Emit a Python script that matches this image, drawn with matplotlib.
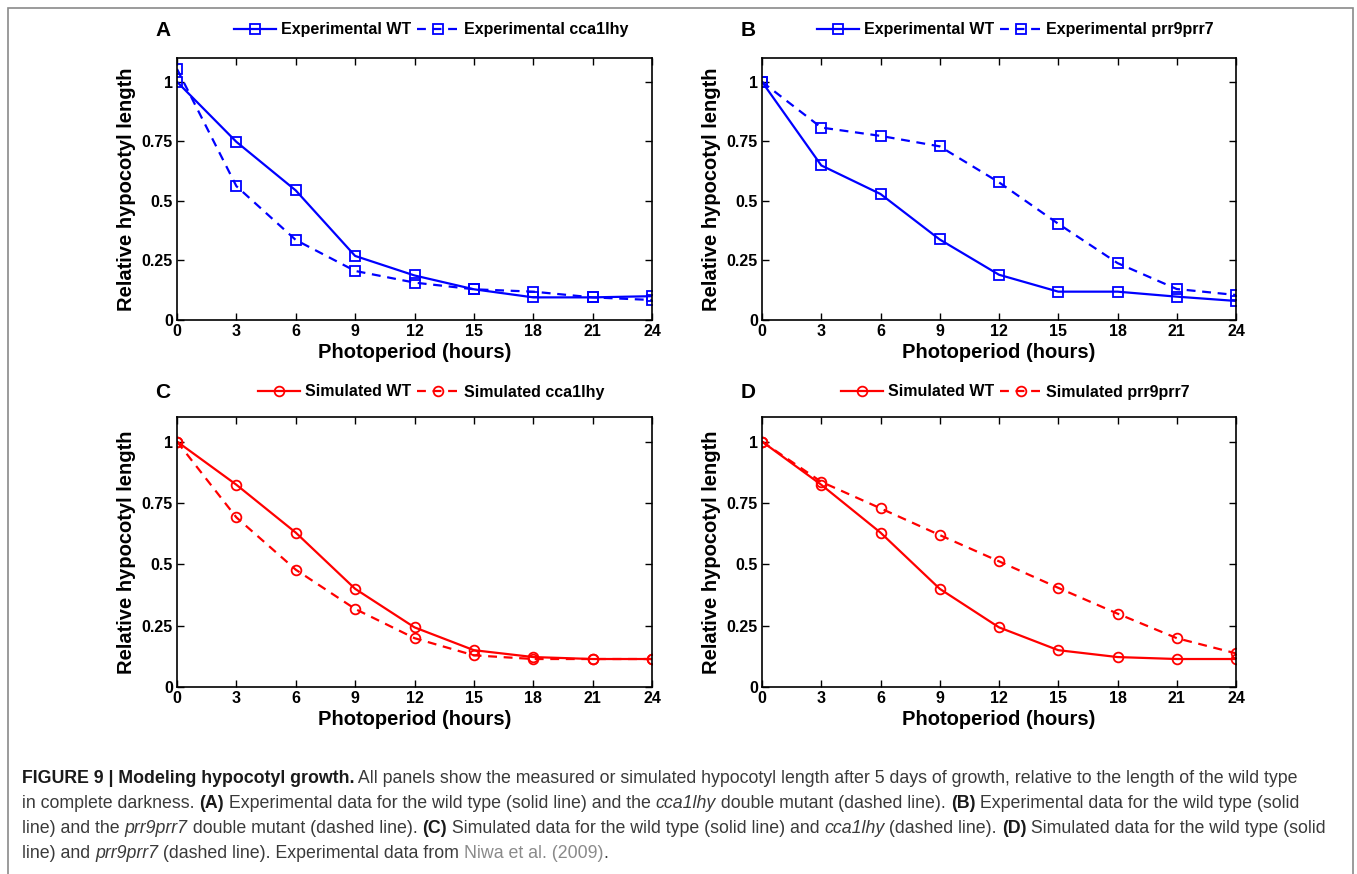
import matplotlib
matplotlib.use("Agg")
import matplotlib.pyplot as plt
from matplotlib.patches import Rectangle

plt.rcParams['font.family'] = ['Liberation Sans', 'DejaVu Sans']

# data
hours = [0, 3, 6, 9, 12, 15, 18, 21, 24]
exp_wt_a = [1.0, 0.748, 0.544, 0.269, 0.187, 0.129, 0.095, 0.095, 0.10]
exp_cca1lhy = [1.054, 0.562, 0.336, 0.206, 0.157, 0.129, 0.119, 0.095, 0.084]
exp_wt_b = [1.0, 0.649, 0.529, 0.338, 0.19, 0.119, 0.119, 0.098, 0.08]
exp_prr9prr7 = [1.0, 0.808, 0.773, 0.729, 0.578, 0.404, 0.239, 0.13, 0.105]
sim_wt = [1.0, 0.824, 0.629, 0.40, 0.243, 0.150, 0.122, 0.114, 0.114]
sim_cca1lhy = [1.0, 0.691, 0.478, 0.318, 0.199, 0.129, 0.114, 0.114, 0.114]
sim_prr9prr7 = [1.0, 0.836, 0.728, 0.619, 0.512, 0.404, 0.299, 0.199, 0.137]

yticks = [0, 0.25, 0.5, 0.75, 1]
ytick_labels = ['0', '0.25', '0.5', '0.75', '1']

panels = [
    ('A', 'Experimental WT', exp_wt_a, 'Experimental cca1lhy', exp_cca1lhy, 'b', 's'),
    ('B', 'Experimental WT', exp_wt_b, 'Experimental prr9prr7', exp_prr9prr7, 'b', 's'),
    ('C', 'Simulated WT', sim_wt, 'Simulated cca1lhy', sim_cca1lhy, 'r', 'o'),
    ('D', 'Simulated WT', sim_wt, 'Simulated prr9prr7', sim_prr9prr7, 'r', 'o'),
]

W, H = 1357, 874
fig = plt.figure(figsize=(W / 100, H / 100), dpi=100)

# axes boxes in pixels: left, top, right, bottom
boxes = [(177, 58, 652, 320), (762, 58, 1236, 320),
         (177, 417, 652, 687), (762, 417, 1236, 687)]

for (letter, l1, y1, l2, y2, col, mk), (x0, t, x1, b) in zip(panels, boxes):
    ax = fig.add_axes([x0 / W, 1 - b / H, (x1 - x0) / W, (b - t) / H])
    ax.plot(hours, y1, '-', color=col, marker=mk, mfc='none', mec=col,
            ms=7, mew=1.3, lw=1.6, label=l1)
    ax.plot(hours, y2, '--', color=col, marker=mk, mfc='none', mec=col,
            ms=7, mew=1.3, lw=1.6, label=l2, dashes=(4, 3))
    ax.set_xlim(0, 24)
    ax.set_ylim(0, 1.1)
    ax.set_xticks(hours)
    ax.set_yticks(yticks)
    ax.set_yticklabels(ytick_labels)
    ax.tick_params(direction='in', top=True, right=True, length=5, width=1,
                   labelsize=11.5, pad=3)
    for lab in ax.get_xticklabels() + ax.get_yticklabels():
        lab.set_fontweight('bold')
    for s in ax.spines.values():
        s.set_linewidth(1.2)
    ax.set_xlabel('Photoperiod (hours)', fontsize=14.5, fontweight='bold')
    ax.set_ylabel('Relative hypocotyl length', fontsize=14.5, fontweight='bold')
    h = b - t
    ax.xaxis.set_label_coords(0.5, -23 / h)
    ax.yaxis.set_label_coords(-41 / (x1 - x0), 0.5)
    top_y = 30 if t < 100 else 392
    ax.legend(ncol=2, loc='center', bbox_to_anchor=(0.535, 1 + (t - top_y) / h),
              frameon=False, prop={'weight': 'bold', 'size': 11.5},
              handlelength=2.6, columnspacing=0.4, handletextpad=0.3,
              borderaxespad=0)
    fig.text((x0 - 14) / W, 1 - top_y / H, letter, fontsize=15,
             fontweight='bold', ha='center', va='center')

# grey frame round figure
fig.patches.append(Rectangle((8 / W, -0.02), (1353 - 8) / W, 1.02 - 8 / H,
                             transform=fig.transFigure, fill=False,
                             ec='#8a8a8a', lw=1.2))

# caption built from styled pieces
renderer = fig.canvas.get_renderer()
cap_size = 12.8
dark = '#3a3a3a'


def seg_width(txt, style):
    a = fig.text(0, 0, 'x' + txt + 'x', fontsize=cap_size, **style)
    b = fig.text(0, 0, 'xx', fontsize=cap_size, **style)
    w = a.get_window_extent(renderer).width - b.get_window_extent(renderer).width
    a.remove()
    b.remove()
    return w


N = {'color': dark}
B = {'color': '#1a1a1a', 'fontweight': 'bold'}
I = {'color': dark, 'fontstyle': 'italic'}
G = {'color': '#8a8a8a'}

caption = [
    [("FIGURE 9 | Modeling hypocotyl growth.", B),
     (" All panels show the measured or simulated hypocotyl length after 5 days of growth, relative to the length of the wild type", N)],
    [("in complete darkness. ", N), ("(A)", B),
     (" Experimental data for the wild type (solid line) and the ", N), ("cca1lhy", I),
     (" double mutant (dashed line). ", N), ("(B)", B),
     (" Experimental data for the wild type (solid", N)],
    [("line) and the ", N), ("prr9prr7", I), (" double mutant (dashed line). ", N),
     ("(C)", B), (" Simulated data for the wild type (solid line) and ", N),
     ("cca1lhy", I), (" (dashed line). ", N), ("(D)", B),
     (" Simulated data for the wild type (solid", N)],
    [("line) and ", N), ("prr9prr7", I),
     (" (dashed line). Experimental data from ", N), ("Niwa et al. (2009)", G),
     (".", N)],
]
line_y = [783, 808, 833, 858]
for segs, yy in zip(caption, line_y):
    x = 22.0
    for txt, style in segs:
        fig.text(x / W, 1 - yy / H, txt, fontsize=cap_size, va='baseline',
                 ha='left', **style)
        x += seg_width(txt, style)

fig.savefig('out.png', dpi=100)
